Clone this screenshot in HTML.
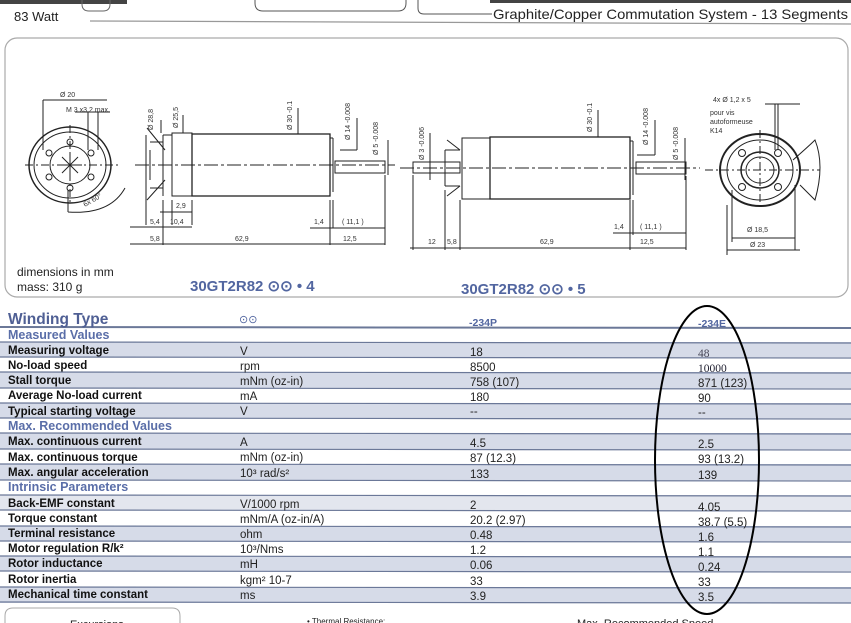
<!DOCTYPE html>
<html><head><meta charset="utf-8"><style>
html,body{margin:0;padding:0;background:#fff;}
svg{display:block;}
.t{font-family:"Liberation Sans",sans-serif;}
.lab{font-family:"Liberation Sans",sans-serif;font-weight:bold;font-size:11.5px;fill:#111;}
.u{font-family:"Liberation Sans",sans-serif;font-size:11.5px;fill:#222;}
.sec{font-family:"Liberation Sans",sans-serif;font-weight:bold;font-size:12.5px;fill:#5a6ea8;}
.d{font-family:"Liberation Sans",sans-serif;font-size:7px;fill:#333;}
</style></head><body>
<svg width="851" height="623" viewBox="0 0 851 623" xmlns="http://www.w3.org/2000/svg">
<rect x="0" y="0" width="127" height="4" fill="#444"/>
<path d="M82 0 v4 q0 7 7 7 h14 q7 0 7-7 v-4" fill="none" stroke="#666"/>
<path d="M255 0 v3 q0 8 8 8 h135 q8 0 8-8 v-3" fill="none" stroke="#555"/>
<rect x="490" y="0" width="361" height="3" fill="#444"/>
<path d="M418 0 v8 q0 6 6 6 h68" fill="none" stroke="#555"/>
<line x1="90" y1="21" x2="851" y2="24" stroke="#999" stroke-width="1.2"/>
<text x="14" y="21" class="t" font-size="13" fill="#222">83 Watt</text>
<text x="493" y="19" class="t" font-size="14" fill="#222" textLength="355" lengthAdjust="spacingAndGlyphs">Graphite/Copper Commutation System - 13 Segments</text>
<rect x="5" y="38" width="843" height="259" rx="12" fill="none" stroke="#aaa" stroke-width="1.2"/>
<g stroke="#222" fill="none" stroke-width="1">
<ellipse cx="70" cy="165" rx="41" ry="38" stroke-width="1.5"/>
<ellipse cx="70" cy="165" rx="36" ry="33"/>
<ellipse cx="70" cy="165" rx="20" ry="19"/>
<line x1="25" y1="165" x2="120" y2="165" stroke-dasharray="8 3 2 3"/>
<line x1="70" y1="125" x2="70" y2="205" stroke-dasharray="8 3 2 3"/>
<circle cx="70" cy="142" r="3"/><circle cx="70" cy="188" r="3"/>
<circle cx="49" cy="153" r="3"/><circle cx="91" cy="153" r="3"/>
<circle cx="49" cy="177" r="3"/><circle cx="91" cy="177" r="3"/>
<path d="M58 165 L82 165 M70 153 L70 177 M62 157 L78 173 M78 157 L62 173"/>
<line x1="43" y1="100" x2="43" y2="150"/><line x1="43" y1="100" x2="107" y2="100"/>
<path d="M88 112 L88 150 M98 112 L98 150 M75 112 L110 112"/>
<path d="M68 212 L68 190 M68 212 Q110 215 125 188"/>
<rect x="172" y="133" width="20" height="63"/>
<rect x="192" y="134" width="138" height="62" stroke-width="1.3"/>
<line x1="330" y1="138" x2="333" y2="138"/><line x1="333" y1="138" x2="333" y2="192"/>
<rect x="335" y="161" width="50" height="12"/>
<path d="M163 135 L163 196 M163 135 L172 135 M147 128 L165 150 M147 200 L165 180 M150 142 L163 142 M150 188 L163 188 M150 150 L150 180"/>
<line x1="135" y1="165" x2="395" y2="165" stroke-dasharray="14 3 3 3"/>
<path d="M146 135 L146 225 M163 200 L163 245 M172 200 L172 225 M192 200 L192 225 M330 200 L330 245 M333 200 L333 228 M385 175 L385 245 M160 212 L192 212"/>
<path d="M130 227 L192 227 M130 244 L385 244 M310 228 L385 228"/>
<path d="M161 120 L161 133 M183 115 L183 133 M298 108 L298 134 M357 118 L357 150 M340 150 L357 150 M388 140 L388 175"/>
<rect x="462" y="138" width="28" height="61"/>
<rect x="490" y="137" width="140" height="62" stroke-width="1.3"/>
<line x1="630" y1="141" x2="633" y2="141"/><line x1="633" y1="141" x2="633" y2="195"/>
<rect x="636" y="162" width="50" height="12"/>
<rect x="413" y="162" width="47" height="11"/>
<path d="M447 140 L460 150 M447 196 L460 186 M445 150 L460 150 M445 186 L460 186 M445 150 L445 186"/>
<line x1="400" y1="168" x2="700" y2="168" stroke-dasharray="14 3 3 3"/>
<path d="M413 175 L413 250 M445 190 L445 250 M460 200 L460 250 M630 200 L630 250 M633 200 L633 235 M686 176 L686 250"/>
<path d="M410 248 L686 248 M613 233 L686 233"/>
<path d="M430 133 L430 180 M598 110 L598 137 M655 120 L655 155 M637 155 L655 155 M685 138 L685 180"/>
<ellipse cx="760" cy="170" rx="40" ry="36" stroke-width="2"/>
<ellipse cx="760" cy="170" rx="33" ry="30"/>
<ellipse cx="760" cy="170" rx="19" ry="18" stroke-width="1.5"/>
<ellipse cx="760" cy="170" rx="14" ry="13"/>
<line x1="705" y1="170" x2="820" y2="170" stroke-dasharray="8 3 2 3"/>
<line x1="760" y1="130" x2="760" y2="210" stroke-dasharray="8 3 2 3"/>
<circle cx="742" cy="153" r="3.5"/><circle cx="778" cy="153" r="3.5"/>
<circle cx="742" cy="187" r="3.5"/><circle cx="778" cy="187" r="3.5"/>
<path d="M732 190 L732 242 M795 185 L795 250 M727 255 L727 205 M732 238 L795 238 M727 250 L800 250 M775 104 L775 150 M778 104 L778 150 M765 104 L800 104"/>
<path d="M793 160 Q810 145 815 140 Q825 165 815 200 L800 185"/>
</g>
<g class="d">
<text x="60" y="97">Ø 20</text><text x="66" y="112">M 3  x3,2 max.</text>
<text x="85" y="207" transform="rotate(-30 85 207)">6x 60°</text>
<text x="176" y="208">2,9</text><text x="150" y="224">5,4</text><text x="170" y="224">10,4</text>
<text x="150" y="241">5,8</text><text x="235" y="241">62,9</text>
<text x="314" y="224">1,4</text><text x="342" y="224">( 11,1 )</text><text x="343" y="241">12,5</text>
<text x="428" y="244">12</text><text x="447" y="244">5,8</text><text x="540" y="244">62,9</text>
<text x="614" y="229">1,4</text><text x="640" y="229">( 11,1 )</text><text x="640" y="244">12,5</text>
<text x="713" y="102">4x Ø    1,2  x 5</text>
<text x="710" y="115">pour vis</text><text x="710" y="124">autoformeuse</text><text x="710" y="133">K14</text>
<text x="747" y="232">Ø 18,5</text><text x="750" y="247">Ø 23</text>
<text transform="translate(153 130) rotate(-90)">Ø 28,8</text>
<text transform="translate(178 128) rotate(-90)">Ø 25,5</text>
<text transform="translate(292 130) rotate(-90)">Ø 30  -0.1</text>
<text transform="translate(350 140) rotate(-90)">Ø 14 -0.008</text>
<text transform="translate(378 155) rotate(-90)">Ø 5 -0.008</text>
<text transform="translate(424 160) rotate(-90)">Ø 3 -0.006</text>
<text transform="translate(592 132) rotate(-90)">Ø 30 -0.1</text>
<text transform="translate(648 145) rotate(-90)">Ø 14 -0.008</text>
<text transform="translate(678 160) rotate(-90)">Ø 5 -0.008</text>
</g>
<text x="17" y="276" class="t" font-size="12" fill="#222">dimensions in mm</text>
<text x="17" y="291" class="t" font-size="12" fill="#222">mass: 310 g</text>
<text x="190" y="291" class="t" font-size="15" font-weight="bold" fill="#5266a0">30GT2R82 ⊙⊙ • 4</text>
<text x="461" y="294" class="t" font-size="15" font-weight="bold" fill="#5266a0">30GT2R82 ⊙⊙ • 5</text>
<g fill="#d6dbe8">
<rect x="0" y="342" width="851" height="15"/>
<rect x="0" y="372" width="851" height="16"/>
<rect x="0" y="403" width="851" height="15"/>
<rect x="0" y="433" width="851" height="16"/>
<rect x="0" y="464" width="851" height="16"/>
<rect x="0" y="495" width="851" height="15" fill="#e3e6ee"/>
<rect x="0" y="526" width="851" height="15"/>
<rect x="0" y="556" width="851" height="15"/>
<rect x="0" y="587" width="851" height="16"/>
</g>
<g stroke="#6b7898" stroke-width="1.2">
<line x1="0" y1="327" x2="851" y2="328" stroke-width="2"/>
<line x1="0" y1="342" x2="851" y2="343"/><line x1="0" y1="357" x2="851" y2="358"/>
<line x1="0" y1="372" x2="851" y2="373"/><line x1="0" y1="388" x2="851" y2="389"/>
<line x1="0" y1="403" x2="851" y2="404"/><line x1="0" y1="418" x2="851" y2="419"/>
<line x1="0" y1="433" x2="851" y2="434"/><line x1="0" y1="449" x2="851" y2="450"/>
<line x1="0" y1="464" x2="851" y2="465"/><line x1="0" y1="480" x2="851" y2="481"/>
<line x1="0" y1="495" x2="851" y2="496"/><line x1="0" y1="510" x2="851" y2="511"/>
<line x1="0" y1="526" x2="851" y2="527"/><line x1="0" y1="541" x2="851" y2="542"/>
<line x1="0" y1="556" x2="851" y2="557"/><line x1="0" y1="571" x2="851" y2="572"/>
<line x1="0" y1="587" x2="851" y2="588"/><line x1="0" y1="602" x2="851" y2="603"/>
</g>
<text x="8" y="324" class="t" font-size="15.5" font-weight="bold" fill="#4f5f94">Winding Type</text>
<text x="239" y="323" class="t" font-size="11" fill="#5266a0">⊙⊙</text>
<text x="469" y="326" class="t" font-size="10.5" font-weight="bold" fill="#5266a0">-234P</text>
<text x="698" y="327" class="t" font-size="10.5" font-weight="bold" fill="#5266a0">-234E</text>
<text x="8" y="339" class="sec">Measured Values</text>
<text x="8" y="430" class="sec">Max. Recommended Values</text>
<text x="8" y="491" class="sec">Intrinsic Parameters</text>
<g class="lab">
<text x="8" y="354">Measuring voltage</text><text x="8" y="369">No-load speed</text>
<text x="8" y="384">Stall torque</text><text x="8" y="399">Average No-load current</text>
<text x="8" y="415">Typical starting voltage</text>
<text x="8" y="445">Max. continuous current</text><text x="8" y="461">Max. continuous torque</text>
<text x="8" y="476">Max. angular acceleration</text>
<text x="8" y="507">Back-EMF constant</text><text x="8" y="522">Torque constant</text>
<text x="8" y="537">Terminal resistance</text><text x="8" y="552">Motor regulation R/k²</text>
<text x="8" y="567">Rotor inductance</text><text x="8" y="583">Rotor inertia</text>
<text x="8" y="598">Mechanical time constant</text>
</g>
<g class="u">
<text x="240" y="355">V</text><text x="240" y="370">rpm</text><text x="240" y="385">mNm (oz-in)</text>
<text x="240" y="400">mA</text><text x="240" y="415">V</text>
<text x="240" y="446">A</text><text x="240" y="461">mNm (oz-in)</text><text x="240" y="477">10³ rad/s²</text>
<text x="240" y="508">V/1000 rpm</text><text x="240" y="523">mNm/A (oz-in/A)</text>
<text x="240" y="538">ohm</text><text x="240" y="553">10³/Nms</text><text x="240" y="568">mH</text>
<text x="240" y="584">kgm² 10-7</text><text x="240" y="599">ms</text>
<text x="470" y="356">18</text><text x="470" y="371">8500</text><text x="470" y="386">758 (107)</text>
<text x="470" y="401">180</text><text x="470" y="415">--</text>
<text x="470" y="447">4.5</text><text x="470" y="462">87 (12.3)</text><text x="470" y="478">133</text>
<text x="470" y="509">2</text><text x="470" y="524">20.2 (2.97)</text><text x="470" y="539">0.48</text>
<text x="470" y="554">1.2</text><text x="470" y="569">0.06</text><text x="470" y="585">33</text>
<text x="470" y="600">3.9</text>
<text x="698" y="357" font-family="Liberation Serif,serif" fill="#445">48</text>
<text x="698" y="372" font-family="Liberation Serif,serif" fill="#223">10000</text>
<text x="698" y="387">871 (123)</text><text x="698" y="402">90</text><text x="698" y="416">--</text>
<text x="698" y="448">2.5</text><text x="698" y="463">93 (13.2)</text><text x="698" y="479">139</text>
<text x="698" y="511">4.05</text><text x="698" y="526">38.7 (5.5)</text><text x="698" y="541">1.6</text>
<text x="698" y="556">1.1</text><text x="698" y="571">0.24</text><text x="698" y="586">33</text>
<text x="698" y="601">3.5</text>
</g>
<ellipse cx="707" cy="460" rx="52" ry="154" fill="none" stroke="#000" stroke-width="2"/>
<path d="M5 623 V616 q0-8 8-8 H172 q8 0 8 8 V623" fill="none" stroke="#aaa"/>
<text x="70" y="628" class="t" font-size="11" fill="#222">Excursions</text>
<text x="307" y="624" class="t" font-size="8" fill="#222">• Thermal Resistance:</text>
<text x="577" y="627" class="t" font-size="11" fill="#222">Max. Recommended Speed</text>
</svg>
</body></html>
